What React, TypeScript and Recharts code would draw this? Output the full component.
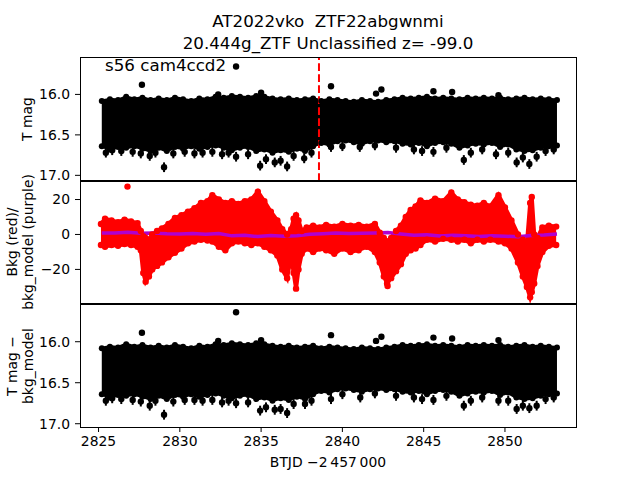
import React from "react";
import {
  ComposedChart,
  Area,
  Scatter,
  Line,
  XAxis,
  YAxis,
  ReferenceLine,
  ErrorBar,
} from "recharts";

// time grid (BTJD - 2457000) for the magnitude band
const T_GRID = [
  2825.2, 2825.7, 2826.2, 2826.7, 2827.2, 2827.7, 2828.2, 2828.7, 2829.2, 2829.7,
  2830.2, 2830.7, 2831.2, 2831.7, 2832.2, 2832.7, 2833.2, 2833.7, 2834.2, 2834.7,
  2835.2, 2835.7, 2836.2, 2836.7, 2837.2, 2837.7, 2838.2, 2838.7, 2839.2, 2839.7,
  2840.2, 2840.7, 2841.2, 2841.7, 2842.2, 2842.7, 2843.2, 2843.7, 2844.2, 2844.7,
  2845.2, 2845.7, 2846.2, 2846.7, 2847.2, 2847.7, 2848.2, 2848.7, 2849.2, 2849.7,
  2850.2, 2850.7, 2851.2, 2851.7, 2852.2, 2852.7, 2853.2,
];
// bright edge of the black band (T mag)
const BAND_HI = [
  16.08, 16.06, 16.07, 16.03, 16.06, 16.04, 16.07, 16.05, 16.07, 16.04,
  16.06, 16.08, 16.05, 16.06, 16.03, 16.04, 16.02, 16.03, 16.04, 16.02,
  16.03, 16.05, 16.06, 16.05, 16.07, 16.06, 16.05, 16.08, 16.06, 16.07,
  16.08, 16.09, 16.07, 16.08, 16.09, 16.07, 16.06, 16.04, 16.05, 16.04,
  16.03, 16.05, 16.04, 16.05, 16.06, 16.04, 16.05, 16.04, 16.05, 16.04,
  16.06, 16.05, 16.04, 16.06, 16.05, 16.06, 16.07,
];
// faint edge of the black band (T mag)
const BAND_LO = [
  16.64, 16.68, 16.65, 16.66, 16.64, 16.67, 16.7, 16.66, 16.7, 16.65,
  16.67, 16.64, 16.67, 16.65, 16.63, 16.66, 16.69, 16.66, 16.65, 16.7,
  16.68, 16.72, 16.69, 16.71, 16.67, 16.7, 16.64, 16.6, 16.62, 16.58,
  16.57, 16.59, 16.61, 16.58, 16.57, 16.59, 16.58, 16.61, 16.62, 16.6,
  16.64, 16.6, 16.59, 16.61, 16.66, 16.63, 16.61, 16.62, 16.6, 16.65,
  16.62, 16.68, 16.7, 16.69, 16.66, 16.64, 16.63,
];

// top panel: isolated points with error bars
const TOP_PT_T = [
  2827.67, 2833.46, 2832.36, 2835.0, 2839.3, 2842.07, 2842.4, 2845.6, 2846.75, 2849.6,
  2825.45, 2825.84, 2826.4, 2827.1, 2827.6, 2828.15, 2828.5, 2829.03, 2829.6, 2830.3,
  2830.9, 2831.4, 2832.0, 2832.6, 2833.0, 2833.46, 2834.2, 2834.94, 2835.3, 2835.84,
  2836.2, 2836.6, 2837.0, 2837.65, 2838.1, 2839.3, 2840.0, 2841.07, 2842.0, 2843.3,
  2844.4, 2844.9, 2845.6, 2846.4, 2847.47, 2847.9, 2848.6, 2849.45, 2850.2, 2850.72,
  2851.1, 2851.5, 2851.95, 2852.5, 2853.0,
];
const TOP_PT_MAG = [
  15.88, 15.655, 16.0, 15.98, 15.9, 15.99, 15.94, 15.96, 15.97, 16.01,
  16.72, 16.69, 16.7, 16.71, 16.73, 16.76, 16.72, 16.9, 16.73, 16.71,
  16.73, 16.72, 16.71, 16.74, 16.72, 16.77, 16.74, 16.88, 16.8, 16.84,
  16.82, 16.89, 16.76, 16.79, 16.72, 16.65, 16.64, 16.65, 16.63, 16.66,
  16.68, 16.7, 16.71, 16.66, 16.81, 16.72, 16.68, 16.74, 16.72, 16.84,
  16.78, 16.86, 16.77, 16.7, 16.68,
];

// bottom panel: isolated points with error bars
const BOT_PT_T = [
  2827.67, 2833.46, 2832.36, 2835.0, 2839.3, 2842.07, 2842.4, 2845.6, 2846.75, 2849.6,
  2825.45, 2825.84, 2826.4, 2827.1, 2827.6, 2828.15, 2828.5, 2829.03, 2829.6, 2830.3,
  2830.9, 2831.4, 2832.0, 2832.6, 2833.0, 2833.46, 2834.2, 2834.94, 2835.3, 2835.84,
  2836.2, 2836.6, 2837.0, 2837.7, 2838.1, 2839.3, 2840.0, 2841.1, 2842.0, 2843.3,
  2844.4, 2844.9, 2845.6, 2846.4, 2847.47, 2847.9, 2848.6, 2849.6, 2850.2, 2850.72,
  2851.1, 2851.5, 2851.95, 2852.5, 2853.0,
];
const BOT_PT_MAG = [
  15.89, 15.64, 15.99, 15.98, 15.92, 15.99, 15.94, 15.95, 15.96, 15.98,
  16.72, 16.69, 16.7, 16.71, 16.73, 16.78, 16.72, 16.89, 16.73, 16.71,
  16.71, 16.72, 16.71, 16.74, 16.72, 16.75, 16.74, 16.84, 16.8, 16.83,
  16.82, 16.87, 16.76, 16.76, 16.72, 16.7, 16.64, 16.68, 16.63, 16.66,
  16.68, 16.7, 16.71, 16.66, 16.78, 16.72, 16.68, 16.72, 16.72, 16.82,
  16.78, 16.81, 16.78, 16.7, 16.68,
];

// middle panel: background flux envelope (red)
const MID_T = [
  2825.15, 2825.4, 2825.8, 2826.2, 2826.6, 2827.0, 2827.4, 2827.6, 2827.75, 2827.9,
  2828.1, 2828.3, 2828.6, 2828.9, 2829.3, 2829.7, 2830.1, 2830.5, 2830.9, 2831.3,
  2831.7, 2832.0, 2832.4, 2832.8, 2833.2, 2833.6, 2834.0, 2834.4, 2834.8, 2835.2,
  2835.6, 2836.0, 2836.3, 2836.6, 2836.85, 2837.0, 2837.15, 2837.3, 2837.5, 2837.8,
  2838.2, 2838.6, 2839.0, 2839.5, 2840.0, 2840.5, 2841.0, 2841.5, 2842.0, 2842.3,
  2842.55, 2842.75, 2843.0, 2843.3, 2843.6, 2843.9, 2844.2, 2844.5, 2844.8, 2845.2,
  2845.7, 2846.2, 2846.7, 2847.1, 2847.5, 2847.9, 2848.3, 2848.7, 2849.1, 2849.6,
  2850.0, 2850.4, 2850.8, 2851.1, 2851.35, 2851.55, 2851.65, 2851.8, 2852.0, 2852.3,
  2852.7, 2853.15,
];
const MID_LO = [
  -6, -7, -6, -6.5, -5.5, -6, -7, -9, -22, -27,
  -24, -20, -18, -16, -13, -10.5, -8, -5, -4, -3,
  -3.5, -4, -7, -9, -5, -4, -5, -6, -5, -7,
  -9, -12, -20, -25, -12, -22, -31, -20, -11, -8,
  -10, -8, -9, -11, -8, -10, -9, -7, -10, -16,
  -24, -28, -25, -21, -17, -11, -9, -8, -6, -3,
  -4, -2.5, -3, -4, -3, -5, -3, -4, -3, -4,
  -5, -8, -16, -24, -30, -36, -33, -28, -18, -10,
  -6.5, -6,
];
const MID_HI = [
  6, 9, 8, 7, 8.5, 7.5, 6.5, 2, -1, -2,
  -3, 0, 2, 3.5, 6, 9.5, 11, 13, 15, 18,
  19, 22.5, 20, 18, 19, 17.5, 19, 20, 24.5, 19,
  13, 8, 3, 0, 3, 9, 11, 8, 2, 4,
  5, 4, 5.5, 4.5, 6, 5, 5.5, 4.5, 6, 1,
  -2, -4, -2, 2, 5, 10, 14, 16, 19.5, 18,
  20.5, 19, 24, 20, 18.5, 17, 16.5, 18, 16, 22.5,
  15.5, 8, 0, -3, -5, 18, 21.5, 0, -2, 4,
  5, 4.5,
];
const MID_OUT_T = [2826.78, 2842.78];
const MID_OUT_V = [27.4, -29.5];

// middle panel: background model (purple)
const MODEL_T = [
  2825.2, 2826.0, 2826.8, 2827.6, 2828.4, 2829.2, 2830.0, 2830.8, 2831.6, 2832.4,
  2833.2, 2834.0, 2834.8, 2835.6, 2836.4, 2837.2, 2838.0, 2838.8, 2839.6, 2840.4,
  2841.2, 2842.0, 2842.8, 2843.6, 2844.4, 2845.2, 2846.0, 2846.8, 2847.6, 2848.4,
  2849.2, 2850.0, 2850.8, 2851.6, 2852.4, 2853.2,
];
const MODEL_V = [
  0.8, 0.9, 1.2, 0.7, 0.9, 0.4, 0.2, 0.5, 0.1, 0.6,
  -0.8, -0.5, -1.2, -0.6, -1.0, -0.7, 0.1, 0.4, 0.8, 0.5,
  0.7, 0.9, 1.1, 0.3, -0.4, -0.2, -0.9, -0.5, -0.8, -1.1,
  -0.7, -1.0, -1.3, -0.6, -0.3, 0.2,
];

const RED_LINE_T = 2838.56;
const X_TICKS = [2825, 2830, 2835, 2840, 2845, 2850];
const MAG_TICKS = [16.0, 16.5, 17.0];
const BKG_TICKS = [-20, 0, 20];

const X_DOMAIN = [2823.86, 2854.37];
const FONT = '"DejaVu Sans", "Liberation Sans", sans-serif';
const PURPLE = "#b000d0";
const PAD = 12; // extra room above/below each plot so edge tick labels are not clipped

const bandData = T_GRID.map((t, i) => ({ t, band: [BAND_LO[i], BAND_HI[i]] }));
const bandDots = [
  ...T_GRID.map((t, i) => ({ t, v: BAND_HI[i] })),
  ...T_GRID.map((t, i) => ({ t, v: BAND_LO[i] })),
];
const topPts = TOP_PT_T.map((t, i) => ({ t, v: TOP_PT_MAG[i], err: i < 10 ? 0.02 : 0.06 }));
const botPts = BOT_PT_T.map((t, i) => ({ t, v: BOT_PT_MAG[i], err: i < 10 ? 0.02 : 0.06 }));

const midData = MID_T.map((t, i) => ({ t, band: [MID_LO[i], MID_HI[i]] }));
const midDots = [
  ...MID_T.map((t, i) => ({ t, v: MID_HI[i] })),
  ...MID_T.map((t, i) => ({ t, v: MID_LO[i] })),
  ...MID_OUT_T.map((t, i) => ({ t, v: MID_OUT_V[i] })),
];
const modelData = MODEL_T.map((t, i) => ({ t, v: MODEL_V[i] }));

const dot = (r: number, fill: string) => (p: any) =>
  <circle cx={p.cx} cy={p.cy} r={r} fill={fill} />;

const tickStyle = { fontSize: 13.9, fill: "#000", fontFamily: FONT };

const Frame = ({ top, height }: { top: number; height: number }) => (
  <div
    style={{
      position: "absolute",
      left: 80,
      top,
      width: 497,
      height,
      border: "1px solid #000",
      boxSizing: "border-box",
      pointerEvents: "none",
    }}
  />
);

const YLabel = ({ x, y, lines }: { x: number; y: number; lines: string[] }) => (
  <div
    style={{
      position: "absolute",
      left: x,
      top: y,
      transform: "translate(-50%, -50%) rotate(-90deg)",
      whiteSpace: "pre",
      textAlign: "center",
      fontSize: 13.9,
      lineHeight: "16px",
    }}
  >
    {lines.join("\n")}
  </div>
);

const MagPanel = ({ pts, withLine, showX }: { pts: any[]; withLine: boolean; showX: boolean }) => (
  <ComposedChart
    width={640}
    height={123 + PAD + (showX ? 40 : PAD)}
    data={bandData}
    margin={{ top: PAD, right: 64, bottom: showX ? 0 : PAD, left: 0 }}
  >
    <XAxis
      type="number"
      dataKey="t"
      domain={X_DOMAIN}
      allowDataOverflow
      ticks={X_TICKS}
      hide={!showX}
      height={40}
      axisLine={false}
      tickLine={{ stroke: "#000" }}
      tickSize={5}
      tickMargin={4}
      tick={tickStyle}
      interval={0}
    />
    <YAxis
      type="number"
      domain={showX ? [15.54, 17.04] : [15.55, 17.07]}
      reversed
      allowDataOverflow
      ticks={MAG_TICKS}
      tickFormatter={(v: number) => v.toFixed(1)}
      width={80}
      axisLine={false}
      tickLine={{ stroke: "#000" }}
      tickSize={5}
      tickMargin={5}
      tick={tickStyle}
      interval={0}
    />
    <Area
      type="linear"
      dataKey="band"
      stroke="#000"
      strokeWidth={3}
      fill="#000"
      fillOpacity={1}
      dot={false}
      activeDot={false}
      isAnimationActive={false}
    />
    <Scatter data={bandDots} dataKey="v" shape={dot(3, "#000")} isAnimationActive={false} />
    <Scatter data={pts} dataKey="v" shape={dot(3.2, "#000")} isAnimationActive={false}>
      <ErrorBar dataKey="err" direction="y" width={0} stroke="#000" strokeWidth={2} />
    </Scatter>
    {withLine && (
      <ReferenceLine x={RED_LINE_T} stroke="#ff0000" strokeWidth={2} strokeDasharray="7.7 3.3" />
    )}
  </ComposedChart>
);

export default function App() {
  return (
    <div
      style={{
        position: "fixed",
        left: 0,
        top: 0,
        width: 640,
        height: 480,
        background: "#fff",
        fontFamily: FONT,
        color: "#000",
        overflow: "hidden",
      }}
    >
      <div
        style={{
          position: "absolute",
          left: 328,
          top: 10,
          transform: "translateX(-50%)",
          textAlign: "center",
          whiteSpace: "pre",
          fontSize: 16.7,
          lineHeight: "22px",
        }}
      >
        {"AT2022vko  ZTF22abgwnmi\n20.444g_ZTF Unclassified z= -99.0"}
      </div>

      <div style={{ position: "absolute", left: 0, top: 58 - PAD }}>
        <MagPanel pts={topPts} withLine showX={false} />
      </div>

      <div style={{ position: "absolute", left: 0, top: 181 - PAD }}>
        <ComposedChart
          width={640}
          height={123 + 2 * PAD}
          data={midData}
          margin={{ top: PAD, right: 64, bottom: PAD, left: 0 }}
        >
          <XAxis type="number" dataKey="t" domain={X_DOMAIN} allowDataOverflow hide />
          <YAxis
            type="number"
            domain={[-39.8, 30.6]}
            allowDataOverflow
            ticks={BKG_TICKS}
            tickFormatter={(v: number) => (v < 0 ? "\u2212" + Math.abs(v) : String(v))}
            width={80}
            axisLine={false}
            tickLine={{ stroke: "#000" }}
            tickSize={5}
            tickMargin={5}
            tick={tickStyle}
            interval={0}
          />
          <Area
            type="linear"
            dataKey="band"
            stroke="#ff0000"
            strokeWidth={4}
            fill="#ff0000"
            fillOpacity={1}
            dot={false}
            activeDot={false}
            isAnimationActive={false}
          />
          <Scatter data={midDots} dataKey="v" shape={dot(3.2, "#ff0000")} isAnimationActive={false} />
          <Line
            data={modelData}
            type="linear"
            dataKey="v"
            stroke={PURPLE}
            strokeWidth={3.5}
            dot={false}
            activeDot={false}
            isAnimationActive={false}
          />
        </ComposedChart>
      </div>

      <div style={{ position: "absolute", left: 0, top: 304 - PAD }}>
        <MagPanel pts={botPts} withLine={false} showX />
      </div>

      <Frame top={57} height={125} />
      <Frame top={180} height={125} />
      <Frame top={303} height={125} />

      <div
        style={{
          position: "absolute",
          left: 105,
          top: 55,
          fontSize: 16.7,
          lineHeight: "20px",
          whiteSpace: "pre",
        }}
      >
        s56 cam4ccd2
      </div>

      <YLabel x={27} y={119} lines={["T mag"]} />
      <YLabel x={20} y={242} lines={["Bkg (red)/", "bkg_model (purple)"]} />
      <YLabel x={20} y={366} lines={["T mag \u2212", "bkg_model"]} />

      <div
        style={{
          position: "absolute",
          left: 328,
          top: 454,
          transform: "translateX(-50%)",
          whiteSpace: "pre",
          fontSize: 13.9,
          lineHeight: "17px",
        }}
      >
        {"BTJD \u22122\u2009457\u2009000"}
      </div>
    </div>
  );
}
